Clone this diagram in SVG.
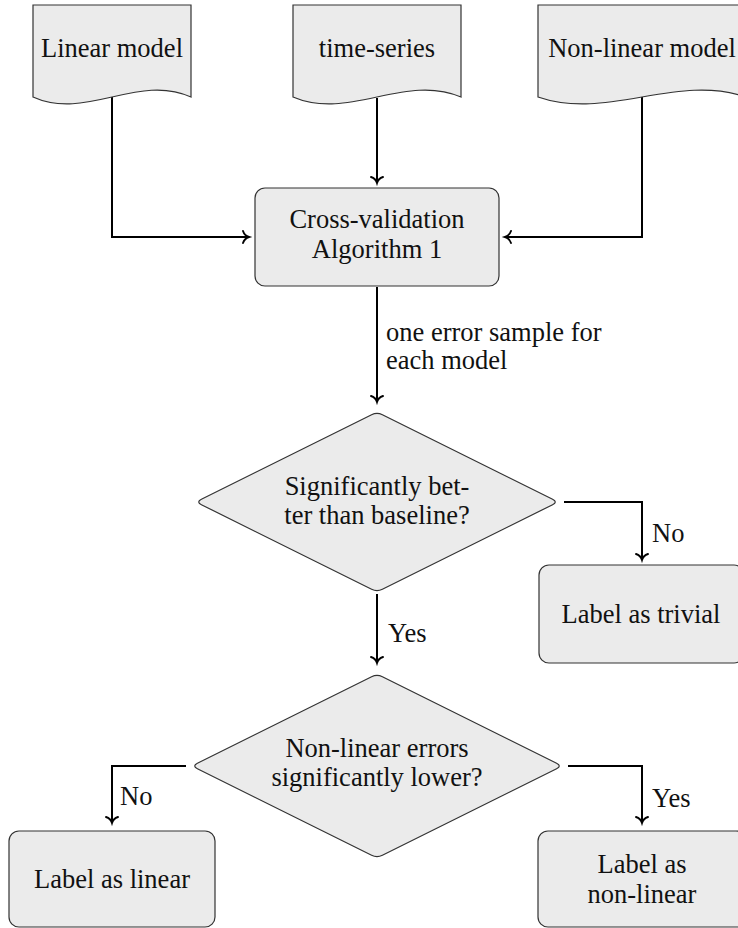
<svg xmlns="http://www.w3.org/2000/svg" width="738" height="928" viewBox="0 0 738 928">
<style>
.n{fill:#ebebeb;stroke:#333;stroke-width:1.2}
text{font-family:"Liberation Serif","Times New Roman",serif;font-size:26.5px;fill:#111}
.t{text-anchor:middle}
.c{fill:none;stroke:#000;stroke-width:2;marker-end:url(#arr)}
</style>
<defs>
<marker id="arr" markerUnits="userSpaceOnUse" markerWidth="16" markerHeight="16" viewBox="-8 -8 16 16" refX="0" refY="0" orient="auto">
<path d="M-6,-6 C-5,-3 -2,-0.6 0,0 C-2,0.6 -5,3 -6,6" fill="none" stroke="#000" stroke-width="1.9" stroke-linecap="round"/>
</marker>
</defs>
<rect width="738" height="928" fill="#fff"/>
<g id="connectors">
<path class="c" d="M112,97 V237 H249"/>
<path class="c" d="M377,98 V183"/>
<path class="c" d="M642,97 V237 H505"/>
<path class="c" d="M377,287 V402"/>
<path class="c" d="M564,502 H642 V560"/>
<path class="c" d="M377,594 V663"/>
<path class="c" d="M186,766 H112 V823"/>
<path class="c" d="M568,766 H642 V823"/>
<text x="386" y="341">one error sample for</text>
<text x="386" y="369">each model</text>
<text x="652" y="542">No</text>
<text x="388" y="642">Yes</text>
<text x="120" y="805">No</text>
<text x="652" y="807">Yes</text>
</g>
<g id="linear-model">
<path class="n" d="M33,5 H191 V97 C138,73 86,121 33,97 Z"/>
<text class="t" x="112" y="57">Linear model</text>
</g>
<g id="time-series">
<path class="n" d="M293,5 H461 V97 C405,73 349,121 293,97 Z"/>
<text class="t" x="377" y="57">time-series</text>
</g>
<g id="non-linear-model">
<path class="n" d="M538,5 H746 V97 C677,73 607,121 538,97 Z"/>
<text class="t" x="642" y="57">Non-linear model</text>
</g>
<g id="cross-validation">
<rect class="n" x="255" y="188" width="244" height="98" rx="10"/>
<text class="t" x="377" y="228">Cross-validation</text>
<text class="t" x="377" y="258">Algorithm 1</text>
</g>
<g id="decision-baseline">
<path class="n" d="M201.4,499.3 L371.6,414.7 Q377,412 382.4,414.7 L552.6,499.3 Q558,502 552.6,504.7 L382.4,589.3 Q377,592 371.6,589.3 L201.4,504.7 Q196,502 201.4,499.3 Z"/>
<text class="t" x="377" y="495">Significantly bet-</text>
<text class="t" x="377" y="524">ter than baseline?</text>
</g>
<g id="label-trivial">
<rect class="n" x="539" y="565" width="205" height="98" rx="10"/>
<text class="t" x="641" y="623">Label as trivial</text>
</g>
<g id="decision-nonlinear">
<path class="n" d="M197.4,763.3 L371.6,676.7 Q377,674 382.4,676.7 L556.6,763.3 Q562,766 556.6,768.7 L382.4,855.3 Q377,858 371.6,855.3 L197.4,768.7 Q192,766 197.4,763.3 Z"/>
<text class="t" x="377" y="757">Non-linear errors</text>
<text class="t" x="377" y="786">significantly lower?</text>
</g>
<g id="label-linear">
<rect class="n" x="9" y="831" width="206" height="96" rx="10"/>
<text class="t" x="112" y="888">Label as linear</text>
</g>
<g id="label-nonlinear">
<rect class="n" x="538" y="831" width="208" height="96" rx="10"/>
<text class="t" x="642" y="873">Label as</text>
<text class="t" x="642" y="903">non-linear</text>
</g>
</svg>
